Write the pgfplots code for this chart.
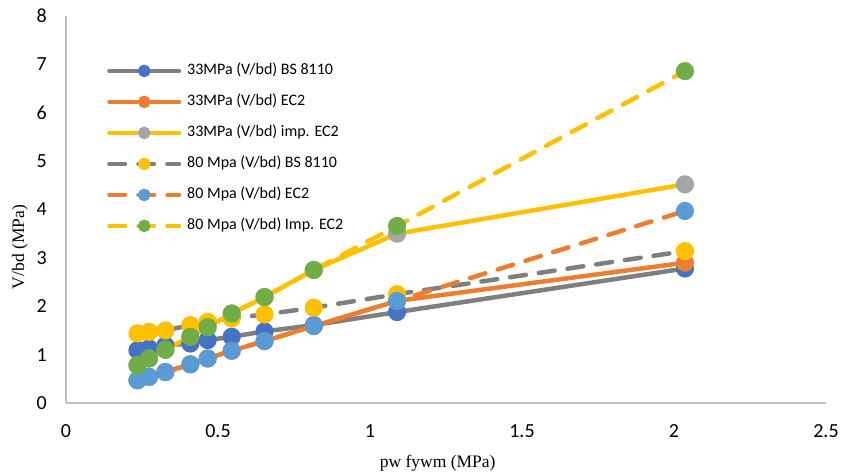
\documentclass[border=0pt]{standalone}
\usepackage{pgfplots}
\pgfplotsset{compat=1.18}
\usepackage{fontspec}
\setmainfont{Carlito}
\newfontfamily\timesfont{Liberation Serif}
\definecolor{xblue}{HTML}{4472C4}
\definecolor{xorange}{HTML}{ED7D31}
\definecolor{xgray}{HTML}{A5A5A5}
\definecolor{xyellow}{HTML}{FFC000}
\definecolor{xlblue}{HTML}{5B9BD5}
\definecolor{xgreen}{HTML}{70AD47}
\definecolor{xdgray}{HTML}{7F7F7F}
\begin{document}
\begin{tikzpicture}
\begin{axis}[
 scale only axis, width=760pt, height=387pt,
 xmin=0,xmax=2.5,ymin=0,ymax=8,
 xtick={0,0.5,1,1.5,2,2.5}, ytick={0,1,2,3,4,5,6,7,8},
 axis lines=left, axis line style={-, draw=black!25, line width=1.2pt},
 major tick length=0pt,
 tick label style={font=\fontsize{20}{24}\selectfont},
 /pgf/number format/assume math mode=true,
 xticklabel style={inner sep=0pt, yshift=-21pt},
 yticklabel style={inner sep=0pt, xshift=-19pt},
 xlabel={pw fywm (MPa)}, ylabel={V/bd (MPa)},
 label style={font=\timesfont\fontsize{17.5}{20}\selectfont},
 xlabel style={at={(axis description cs:0.489,-0.155)}, anchor=center},
 ylabel style={at={(axis description cs:-0.0605,0.403)}, anchor=center},
 legend style={at={(rel axis cs:0.054,0.878)}, anchor=north west, draw=none, fill=none,
   font=\fontsize{16}{19}\selectfont, inner sep=0pt, column sep=6pt, row sep=16pt,
   nodes={inner sep=0pt, text height=11pt, text depth=4pt}},
 legend cell align=left,
 legend image code/.code={
   \draw[mark repeat=2,mark phase=2,#1,mark size=4.2pt,line width=4pt] plot coordinates {(0pt,0pt) (35pt,0pt) (70pt,0pt)};
 },
 every axis plot/.append style={line width=4.5pt, mark=*, mark size=6.8pt, line cap=round},
]
\addplot[xdgray, mark options={draw=xblue, fill=xblue, solid}] coordinates {
(0.235,1.09) (0.273,1.13) (0.327,1.19) (0.409,1.23) (0.466,1.30) (0.545,1.37) (0.653,1.48) (0.815,1.61) (1.089,1.88) (2.036,2.78)};
\addlegendentry{33MPa (V/bd) BS 8110}
\addplot[xorange, mark options={draw=xorange, fill=xorange, solid}] coordinates {
(0.235,0.47) (0.273,0.54) (0.327,0.64) (0.409,0.80) (0.466,0.92) (0.545,1.08) (0.653,1.28) (0.815,1.59) (1.089,2.11) (2.036,2.90)};
\addlegendentry{33MPa (V/bd) EC2}
\addplot[xyellow, mark options={draw=xgray, fill=xgray, solid}] coordinates {
(0.235,0.78) (0.273,0.92) (0.327,1.10) (0.409,1.37) (0.466,1.57) (0.545,1.85) (0.653,2.19) (0.815,2.75) (1.089,3.50) (2.036,4.52)};
\addlegendentry{33MPa (V/bd) imp. EC2}
\addplot[xdgray, dash pattern=on 16pt off 13pt, mark options={draw=xyellow, fill=xyellow, solid}] coordinates {
(0.235,1.44) (0.273,1.47) (0.327,1.50) (0.409,1.61) (0.466,1.68) (0.545,1.75) (0.653,1.83) (0.815,1.97) (1.089,2.25) (2.036,3.14)};
\addlegendentry{80 Mpa (V/bd) BS 8110}
\addplot[xorange, dash pattern=on 16pt off 13pt, mark options={draw=xlblue, fill=xlblue, solid}] coordinates {
(0.235,0.47) (0.273,0.54) (0.327,0.64) (0.409,0.80) (0.466,0.92) (0.545,1.08) (0.653,1.28) (0.815,1.59) (1.089,2.11) (2.036,3.97)};
\addlegendentry{80 Mpa (V/bd) EC2}
\addplot[xyellow, dash pattern=on 16pt off 13pt, mark options={draw=xgreen, fill=xgreen, solid}] coordinates {
(0.235,0.78) (0.273,0.92) (0.327,1.10) (0.409,1.37) (0.466,1.57) (0.545,1.85) (0.653,2.19) (0.815,2.75) (1.089,3.66) (2.036,6.86)};
\addlegendentry{80 Mpa (V/bd) Imp. EC2}
\coordinate (sw) at (rel axis cs:0,0);
\coordinate (ne) at (rel axis cs:1,1);
\end{axis}
\pgfresetboundingbox
\path ([shift={(-66pt,-71pt)}]sw) rectangle ([shift={(17pt,16pt)}]ne);
\end{tikzpicture}
\end{document}
